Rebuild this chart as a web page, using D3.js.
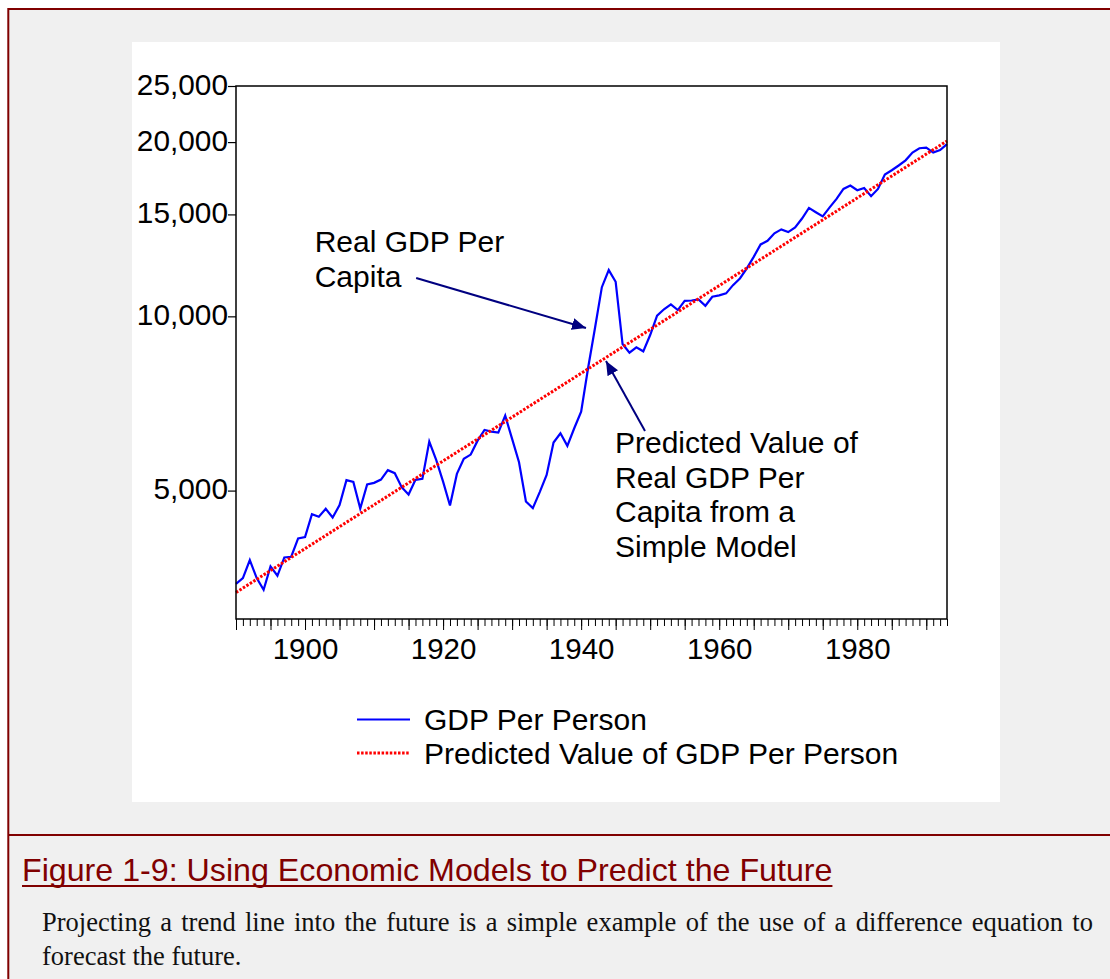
<!DOCTYPE html>
<html>
<head>
<meta charset="utf-8">
<script src="https://cdnjs.cloudflare.com/ajax/libs/d3/7.8.5/d3.min.js"></script>
<style>
    body { margin: 0; background: #ffffff; }
    svg { display: block; }
</style>
</head>
<body>
<svg id="page" width="1110" height="979"></svg>
<script>
    // real GDP per person, one value a year, 1890 - 1993
    var years = d3.range(1890, 1994);
    var gdpPerPerson = [
        3451, 3530, 3793, 3530, 3370, 3698, 3563, 3832, 3843, 4133,   // 1890s
        4156, 4553, 4505, 4650, 4492, 4719, 5212, 5176, 4655, 5122,   // 1900s
        5156, 5224, 5423, 5358, 5069, 4922, 5218, 5239, 6075, 5651,   // 1910s
        5182, 4712, 5343, 5673, 5770, 6099, 6365, 6321, 6296, 6737,   // 1920s
        6141, 5598, 4787, 4664, 4970, 5322, 6052, 6281, 5974, 6407,   // 1930s
        6845, 8133, 9535, 11230, 12020, 11473, 8957, 8654, 8840, 8701, // 1940s
        9284, 10024, 10284, 10488, 10254, 10638, 10650, 10697, 10430, 10809,   // 1950s
        10870, 10956, 11322, 11628, 12100, 12671, 13312, 13506, 13912, 14132,  // 1960s
        13982, 14245, 14758, 15394, 15133, 14881, 15423, 15954, 16600, 16824,  // 1970s
        16513, 16667, 16129, 16600, 17581, 17883, 18222, 18601, 19186, 19516,  // 1980s
        19560, 19186, 19380, 19841                                             // 1990s
    ];
    // predicted value from the simple model: a straight line on the log scale
    var trendYears = [1890, 1993];
    var trendValues = [3334, 20090];

    var yTickValues = [5000, 10000, 15000, 20000, 25000];
    var xLabelYears = [1900, 1920, 1940, 1960, 1980];
    var legendLabels = ["GDP Per Person", "Predicted Value of GDP Per Person"];

    var noteActual = ["Real GDP Per", "Capita"];
    var notePredicted = ["Predicted Value of", "Real GDP Per", "Capita from a", "Simple Model"];

    var captionTitle = "Figure 1-9: Using Economic Models to Predict the Future";
    var captionText = ["Projecting a trend line into the future is a simple example of the use of a difference equation to",
                       "forecast the future."];

    var sans = "'Liberation Sans', Arial, sans-serif";
    var serif = "'Liberation Serif', 'Times New Roman', serif";
    var maroon = "#800000";
    var navy = "#000080";

    var svg = d3.select("#page");

    // page frame, grey fill, panel
    svg.append("rect").attr("x", 8.3).attr("y", 9).attr("width", 1200).attr("height", 1100)
        .attr("fill", "#f0f0f0").attr("stroke", maroon).attr("stroke-width", 2);
    svg.append("line").attr("x1", 8).attr("x2", 1110).attr("y1", 835).attr("y2", 835)
        .attr("stroke", maroon).attr("stroke-width", 2);
    svg.append("rect").attr("x", 132).attr("y", 42).attr("width", 868).attr("height", 760).attr("fill", "#ffffff");

    var x = d3.scaleLinear().domain([1890, 1993]).range([236, 947]);
    var y = d3.scaleLog().domain([3000, 25000]).range([619, 86]);

    // y axis
    var yAxis = svg.append("g").attr("transform", "translate(236,0)")
        .call(d3.axisLeft(y).tickValues(yTickValues).tickFormat(d3.format(",")).tickSize(8).tickPadding(0));
    yAxis.select(".domain").remove();
    yAxis.selectAll("line").attr("stroke", "#000").attr("stroke-width", 1.2);
    yAxis.selectAll("text").attr("font-family", sans).attr("font-size", 29.8).attr("fill", "#000").attr("dy", "0.27em");

    // x axis: a tick each year, longer every five years, labels every twenty
    var xMinor = svg.append("g").attr("transform", "translate(0,619)")
        .call(d3.axisBottom(x).tickValues(years).tickSize(7).tickFormat(""));
    var xMajor = svg.append("g").attr("transform", "translate(0,619)")
        .call(d3.axisBottom(x).tickValues(years.filter(function (d) { return d % 5 === 0; })).tickSize(11).tickFormat(""));
    var xLabels = svg.append("g").attr("transform", "translate(0,619)")
        .call(d3.axisBottom(x).tickValues(xLabelYears).tickSize(0).tickPadding(19).tickFormat(d3.format("d")));
    [xMinor, xMajor, xLabels].forEach(function (g) {
        g.select(".domain").remove();
        g.selectAll("line").attr("stroke", "#000").attr("stroke-width", 1);
    });
    xLabels.selectAll("text").attr("font-family", sans).attr("font-size", 29.5).attr("fill", "#000");

    // lines
    var line = d3.line().x(function (d) { return x(d[0]); }).y(function (d) { return y(d[1]); });

    svg.append("path")
        .datum(years.map(function (yr, i) { return [yr, gdpPerPerson[i]]; }))
        .attr("d", line).attr("fill", "none").attr("stroke", "#0000ff").attr("stroke-width", 2.2)
        .attr("stroke-linejoin", "miter");

    svg.append("path")
        .datum(trendYears.map(function (yr, i) { return [yr, trendValues[i]]; }))
        .attr("d", line).attr("fill", "none").attr("stroke", "#ff0000").attr("stroke-width", 3)
        .attr("stroke-dasharray", "2.5,1.6");

    // plot frame
    svg.append("rect").attr("x", 236).attr("y", 86).attr("width", 711).attr("height", 533)
        .attr("fill", "none").attr("stroke", "#000").attr("stroke-width", 1.5);

    // annotations, placed in data coordinates
    svg.append("defs").append("marker").attr("id", "head")
        .attr("markerUnits", "userSpaceOnUse").attr("markerWidth", 15).attr("markerHeight", 12)
        .attr("refX", 14).attr("refY", 6).attr("orient", "auto")
        .append("path").attr("d", "M0,0L14,6L0,12Z").attr("fill", navy);

    var arrows = [
        { from: [1916.1, 11650], to: [1940.7, 9545] },
        { from: [1949.25, 6335], to: [1943.6, 8372] }
    ];
    svg.selectAll(".arrow").data(arrows).enter().append("line").attr("class", "arrow")
        .attr("x1", function (d) { return x(d.from[0]); }).attr("y1", function (d) { return y(d.from[1]); })
        .attr("x2", function (d) { return x(d.to[0]); }).attr("y2", function (d) { return y(d.to[1]); })
        .attr("stroke", navy).attr("stroke-width", 2).attr("marker-end", "url(#head)");

    function note(lines, yr, val) {
        var t = svg.append("text").attr("font-family", sans).attr("font-size", 30).attr("fill", "#000")
            .attr("x", x(yr)).attr("y", y(val));
        t.selectAll("tspan").data(lines).enter().append("tspan")
            .attr("x", x(yr)).attr("dy", function (d, i) { return i === 0 ? 0 : 34.5; })
            .text(function (d) { return d; });
    }
    note(noteActual, 1901.4, 12900);
    note(notePredicted, 1944.9, 5805);

    // legend
    var legend = svg.append("g").attr("transform", "translate(357,719.5)");
    var items = legend.selectAll("g").data(legendLabels).enter().append("g")
        .attr("transform", function (d, i) { return "translate(0," + (i * 33.5) + ")"; });
    items.append("line").attr("x1", 0).attr("x2", 53).attr("y1", 0).attr("y2", 0)
        .attr("stroke", function (d, i) { return i === 0 ? "#0000ff" : "#ff0000"; })
        .attr("stroke-width", function (d, i) { return i === 0 ? 2 : 2.8; })
        .attr("stroke-dasharray", function (d, i) { return i === 0 ? null : "2.5,1.6"; });
    items.append("text").attr("x", 67).attr("y", 10.5)
        .attr("font-family", sans).attr("font-size", 30).attr("fill", "#000")
        .text(function (d) { return d; });

    // caption
    var title = svg.append("text").attr("x", 22).attr("y", 881)
        .attr("font-family", sans).attr("font-size", 32.2).attr("fill", maroon).text(captionTitle);
    var tw = title.node().getComputedTextLength();
    svg.append("line").attr("x1", 22).attr("x2", 22 + tw).attr("y1", 886).attr("y2", 886)
        .attr("stroke", maroon).attr("stroke-width", 2);

    captionText.forEach(function (txt, i) {
        var t = svg.append("text").attr("x", 42).attr("y", 931 + i * 34)
            .attr("font-family", serif).attr("font-size", 26.5).attr("fill", "#111").text(txt);
        if (i < captionText.length - 1) {
            var gaps = txt.split(" ").length - 1;
            var extra = (1093 - 42) - t.node().getComputedTextLength();
            t.attr("word-spacing", extra / gaps);
        }
    });
</script>
</body>
</html>
